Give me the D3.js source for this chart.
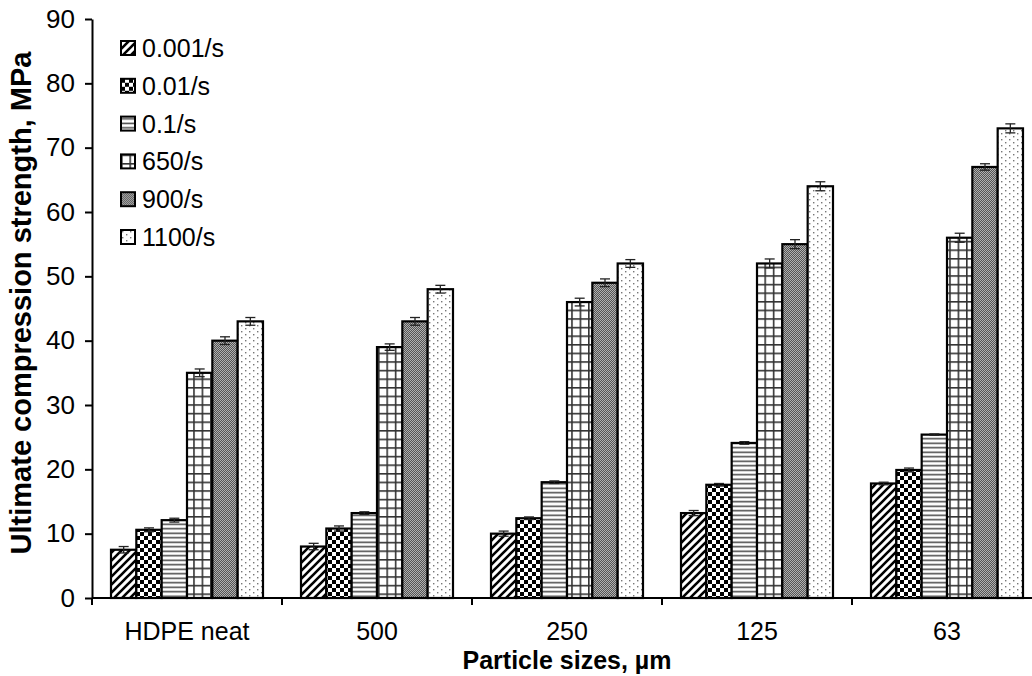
<!DOCTYPE html>
<html>
<head>
<meta charset="utf-8">
<script src="https://cdn.jsdelivr.net/npm/d3@7"></script>
<style>
  body { margin: 0; background: #fff; }
  svg text { font-family: Arial, "Liberation Sans", sans-serif; }
  .axis path, .axis line { stroke: #000; stroke-width: 2; }
  .axis text { font-size: 25px; fill: #000; }
</style>
</head>
<body>
<div id="container"></div>
<script>
// particle size groups
var categories = ["HDPE neat", "500", "250", "125", "63"];
// strain rates
var rates = ["0.001/s", "0.01/s", "0.1/s", "650/s", "900/s", "1100/s"];
// ultimate compression strength (MPa), one array per strain rate
var rate0001 = [7.5, 8.0, 10.0, 13.2, 17.8];
var rate001 = [10.6, 10.8, 12.4, 17.6, 19.9];
var rate01 = [12.1, 13.2, 18.0, 24.1, 25.4];
var rate650 = [35.0, 39.0, 46.0, 52.0, 56.0];
var rate900 = [40.0, 43.0, 49.0, 55.0, 67.0];
var rate1100 = [43.0, 48.0, 52.0, 64.0, 73.0];
// error bars (MPa)
var err0001 = [0.5, 0.5, 0.4, 0.4, 0.2];
var err001 = [0.3, 0.4, 0.2, 0.2, 0.3];
var err01 = [0.3, 0.2, 0.2, 0.2, 0.1];
var err650 = [0.6, 0.5, 0.6, 0.7, 0.7];
var err900 = [0.6, 0.6, 0.6, 0.7, 0.5];
var err1100 = [0.6, 0.6, 0.6, 0.7, 0.7];
var yTicks = [0, 10, 20, 30, 40, 50, 60, 70, 80, 90];

var seriesValues = [rate0001, rate001, rate01, rate650, rate900, rate1100];
var seriesErrors = [err0001, err001, err01, err650, err900, err1100];
var patternIds = ["p-diag", "p-check", "p-horiz", "p-grid", "p-gray", "p-dots"];

function drawChart() {
  var width = 1032, height = 676;
  var plotLeft = 92, plotRight = 1042, plotTop = 19, plotBottom = 598;

  var svg = d3.select("#container").append("svg")
    .attr("width", width)
    .attr("height", height);

  // fill patterns
  var defs = svg.append("defs");

  var diag = defs.append("pattern").attr("id", "p-diag")
    .attr("patternUnits", "userSpaceOnUse").attr("width", 8).attr("height", 8);
  diag.append("rect").attr("width", 8).attr("height", 8).attr("fill", "#fff");
  diag.append("path").attr("d", "M-2,2 L2,-2 M0,8 L8,0 M6,10 L10,6")
    .attr("stroke", "#000").attr("stroke-width", 2.6);

  var check = defs.append("pattern").attr("id", "p-check")
    .attr("patternUnits", "userSpaceOnUse").attr("width", 8).attr("height", 8);
  check.append("rect").attr("width", 8).attr("height", 8).attr("fill", "#fff");
  check.append("rect").attr("width", 4).attr("height", 4).attr("fill", "#000");
  check.append("rect").attr("x", 4).attr("y", 4).attr("width", 4).attr("height", 4).attr("fill", "#000");

  var horiz = defs.append("pattern").attr("id", "p-horiz")
    .attr("patternUnits", "userSpaceOnUse").attr("width", 8).attr("height", 4.5);
  horiz.append("rect").attr("width", 8).attr("height", 4.5).attr("fill", "#fff");
  horiz.append("rect").attr("y", 1.5).attr("width", 8).attr("height", 1.5).attr("fill", "#444");

  var grid = defs.append("pattern").attr("id", "p-grid")
    .attr("patternUnits", "userSpaceOnUse").attr("width", 8.4).attr("height", 8.6);
  grid.append("rect").attr("width", 8.4).attr("height", 8.6).attr("fill", "#fff");
  grid.append("rect").attr("width", 1.6).attr("height", 8.6).attr("fill", "#333");
  grid.append("rect").attr("width", 8.4).attr("height", 1.6).attr("fill", "#333");

  var gray = defs.append("pattern").attr("id", "p-gray")
    .attr("patternUnits", "userSpaceOnUse").attr("width", 2).attr("height", 2);
  gray.append("rect").attr("width", 2).attr("height", 2).attr("fill", "#555");
  gray.append("rect").attr("width", 1).attr("height", 1).attr("fill", "#b0b0b0");
  gray.append("rect").attr("x", 1).attr("y", 1).attr("width", 1).attr("height", 1).attr("fill", "#b0b0b0");

  var dots = defs.append("pattern").attr("id", "p-dots")
    .attr("patternUnits", "userSpaceOnUse").attr("width", 8).attr("height", 6);
  dots.append("rect").attr("width", 8).attr("height", 6).attr("fill", "#fff");
  dots.append("rect").attr("x", 1).attr("y", 1).attr("width", 1.4).attr("height", 1.4).attr("fill", "#777");
  dots.append("rect").attr("x", 5).attr("y", 4).attr("width", 1.4).attr("height", 1.4).attr("fill", "#777");

  // scales
  var x = d3.scaleBand().domain(categories).range([plotLeft, plotRight]).padding(0);
  var xs = d3.scaleBand().domain(rates).range([0, x.bandwidth()])
    .paddingInner(0).paddingOuter(0.75);
  var y = d3.scaleLinear().domain([0, 90]).range([plotBottom, plotTop]);

  // bars
  var groups = svg.append("g").selectAll("g")
    .data(rates)
    .enter().append("g");

  groups.each(function (rate, si) {
    var g = d3.select(this);
    var rows = categories.map(function (c, ci) {
      return {cat: c, value: seriesValues[si][ci], err: seriesErrors[si][ci]};
    });
    var cx = function (d) {return x(d.cat) + xs(rate) + xs.bandwidth() / 2;};

    g.selectAll("rect")
      .data(rows)
      .enter().append("rect")
      .attr("x", function (d) {return x(d.cat) + xs(rate);})
      .attr("y", function (d) {return y(d.value);})
      .attr("width", xs.bandwidth())
      .attr("height", function (d) {return y(0) - y(d.value);})
      .attr("fill", "url(#" + patternIds[si] + ")")
      .attr("stroke", "#000")
      .attr("stroke-width", 2.2);

    // error bars
    var eb = g.selectAll("g.err")
      .data(rows)
      .enter().append("g")
      .attr("class", "err")
      .attr("stroke", "#222")
      .attr("stroke-width", 1.3);
    eb.append("line")
      .attr("x1", cx).attr("x2", cx)
      .attr("y1", function (d) {return y(d.value + d.err);})
      .attr("y2", function (d) {return y(d.value - d.err);});
    [1, -1].forEach(function (s) {
      eb.append("line")
        .attr("x1", function (d) {return cx(d) - 5;})
        .attr("x2", function (d) {return cx(d) + 5;})
        .attr("y1", function (d) {return y(d.value + s * d.err);})
        .attr("y2", function (d) {return y(d.value + s * d.err);});
    });
  });

  // y axis
  var yAxis = d3.axisLeft(y).tickValues(yTicks).tickSize(7).tickPadding(10).tickSizeOuter(0);
  var yAxisG = svg.append("g").attr("class", "axis")
    .attr("transform", "translate(" + plotLeft + ",0)")
    .call(yAxis);
  yAxisG.selectAll("text").style("font-size", "26px");

  // x axis: ticks at group boundaries
  var xAxisG = svg.append("g").attr("class", "axis");
  xAxisG.append("line")
    .attr("x1", plotLeft).attr("x2", plotRight)
    .attr("y1", plotBottom).attr("y2", plotBottom);
  xAxisG.selectAll("line.tick")
    .data(categories)
    .enter().append("line")
    .attr("class", "tick")
    .attr("x1", function (d) {return x(d);})
    .attr("x2", function (d) {return x(d);})
    .attr("y1", plotBottom).attr("y2", plotBottom + 7);
  xAxisG.selectAll("text")
    .data(categories)
    .enter().append("text")
    .attr("x", function (d) {return x(d) + x.bandwidth() / 2;})
    .attr("y", plotBottom + 42)
    .attr("text-anchor", "middle")
    .text(function (d) {return d;});

  // axis titles
  svg.append("text")
    .attr("x", (plotLeft + plotRight) / 2)
    .attr("y", 669)
    .attr("text-anchor", "middle")
    .attr("font-size", 25)
    .attr("font-weight", "bold")
    .text("Particle sizes, \u00b5m");

  svg.append("text")
    .attr("transform", "translate(31,303) rotate(-90)")
    .attr("text-anchor", "middle")
    .attr("font-size", 29)
    .attr("font-weight", "bold")
    .text("Ultimate compression strength, MPa");

  // legend
  var legend = svg.append("g").attr("transform", "translate(121, 41)");
  var item = legend.selectAll("g")
    .data(rates)
    .enter().append("g")
    .attr("transform", function (d, i) {return "translate(0," + (i * 37.8) + ")";});
  item.append("rect")
    .attr("width", 14).attr("height", 14)
    .attr("fill", function (d, i) {return "url(#" + patternIds[i] + ")";})
    .attr("stroke", "#000")
    .attr("stroke-width", 2);
  item.append("text")
    .attr("x", 21)
    .attr("y", 16)
    .attr("font-size", 25)
    .text(function (d) {return d;});
}

drawChart();
</script>
</body>
</html>
